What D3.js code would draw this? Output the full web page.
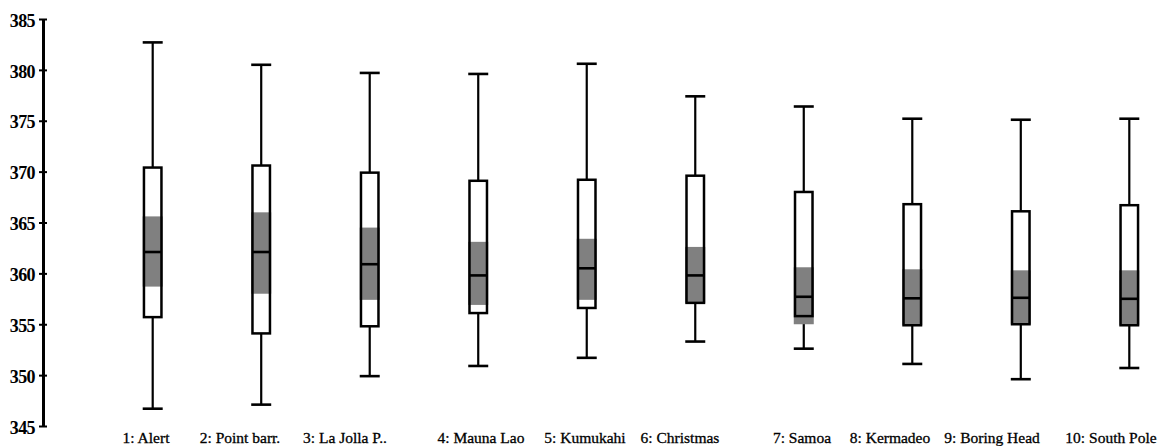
<!DOCTYPE html>
<html>
<head>
<meta charset="utf-8">
<script src="https://cdn.jsdelivr.net/npm/d3@7/dist/d3.min.js"></script>
<style>
  html, body { margin: 0; padding: 0; background: #fff; }
  svg { display: block; }
</style>
</head>
<body>
<svg id="chart" width="1162" height="446"></svg>
<script>
// Monitoring stations and CO2 concentration summaries (ppm)
const stations = ["1: Alert", "2: Point barr.", "3: La Jolla P..", "4: Mauna Lao", "5: Kumukahi",
                  "6: Christmas", "7: Samoa", "8: Kermadeo", "9: Boring Head", "10: South Pole"];
const whiskerHigh = [382.7, 380.5, 379.7, 379.6, 380.6, 377.4, 376.4, 375.2, 375.1, 375.2];
const upperQuartile = [370.4, 370.6, 369.9, 369.1, 369.2, 369.6, 368.0, 366.8, 366.1, 366.7];
const bandHigh = [365.6, 366.0, 364.5, 363.1, 363.4, 362.6, 360.6, 360.4, 360.3, 360.3];
const median = [362.1, 362.1, 360.9, 359.8, 360.5, 359.8, 357.7, 357.55, 357.6, 357.5];
const bandLow = [358.7, 358.0, 357.4, 356.9, 357.4, 357.1, 355.0, 354.9, 355.0, 354.9];
const lowerQuartile = [355.7, 354.1, 354.8, 356.1, 356.6, 357.1, 355.8, 354.9, 355.0, 354.9];
const whiskerLow = [346.7, 347.1, 349.9, 350.9, 351.7, 353.3, 352.6, 351.1, 349.6, 350.7];
const yTicks = [345, 350, 355, 360, 365, 370, 375, 380, 385];

const rows = stations.map((name, i) => ({
  name, hi: whiskerHigh[i], q3: upperQuartile[i], bHi: bandHigh[i], med: median[i],
  bLo: bandLow[i], q1: lowerQuartile[i], lo: whiskerLow[i]
}));

// layout
const axisX = 43;
const boxW = 20;
const labelCenters = [146, 240, 345, 481, 585, 680, 802, 890, 992, 1111];

const svg = d3.select("#chart");

const y = d3.scaleLinear().domain([345, 385]).range([426, 19]);
const x = d3.scalePoint().domain(stations).range([152.7, 1129.3]).padding(0);

// y axis
const yAxis = d3.axisLeft(y).tickValues(yTicks).tickFormat(d3.format("d"))
  .tickSizeInner(4).tickSizeOuter(0).tickPadding(4);
const gy = svg.append("g").attr("transform", `translate(${axisX},0)`).call(yAxis);
gy.select(".domain").attr("stroke", "#000").attr("stroke-width", 3);
gy.selectAll(".tick line").attr("x1", -4).attr("x2", 4)
  .attr("stroke", "#000").attr("stroke-width", 2);
gy.selectAll(".tick text")
  .attr("font-family", "'Liberation Serif', 'Times New Roman', serif")
  .attr("font-size", 18).attr("font-weight", "bold").attr("fill", "#000")
  .attr("letter-spacing", -0.6).attr("dy", "0.4em");

// boxes
const g = svg.append("g");
const box = g.selectAll("g.box").data(rows).join("g").attr("class", "box")
  .attr("transform", d => `translate(${x(d.name)},0)`);

// whiskers
box.append("line").attr("x1", 0).attr("x2", 0)
  .attr("y1", d => y(d.hi)).attr("y2", d => y(d.q3))
  .attr("stroke", "#000").attr("stroke-width", 2.2);
box.append("line").attr("x1", 0).attr("x2", 0)
  .attr("y1", d => y(d.q1)).attr("y2", d => y(d.lo))
  .attr("stroke", "#000").attr("stroke-width", 2.2);
// caps
box.append("line").attr("x1", -boxW / 2).attr("x2", boxW / 2)
  .attr("y1", d => y(d.hi)).attr("y2", d => y(d.hi))
  .attr("stroke", "#000").attr("stroke-width", 2.6);
box.append("line").attr("x1", -boxW / 2).attr("x2", boxW / 2)
  .attr("y1", d => y(d.lo)).attr("y2", d => y(d.lo))
  .attr("stroke", "#000").attr("stroke-width", 2.6);

// box body
box.append("rect").attr("x", -boxW / 2 + 1.25).attr("width", boxW - 2.5)
  .attr("y", d => y(d.q3)).attr("height", d => y(d.q1) - y(d.q3))
  .attr("fill", "#fff");
// shaded band around the median
box.append("rect").attr("x", -boxW / 2).attr("width", boxW)
  .attr("y", d => y(d.bHi)).attr("height", d => y(d.bLo) - y(d.bHi))
  .attr("fill", "#808080");
// box outline
box.append("rect").attr("x", -boxW / 2 + 1.25).attr("width", boxW - 2.5)
  .attr("y", d => y(d.q3)).attr("height", d => y(d.q1) - y(d.q3))
  .attr("fill", "none").attr("stroke", "#000").attr("stroke-width", 2.5);
// median
box.append("line").attr("x1", -boxW / 2 + 1.25).attr("x2", boxW / 2 - 1.25)
  .attr("y1", d => y(d.med)).attr("y2", d => y(d.med))
  .attr("stroke", "#000").attr("stroke-width", 2.6);

// station labels
svg.append("g").selectAll("text").data(stations).join("text")
  .attr("x", (d, i) => labelCenters[i]).attr("y", 443)
  .attr("text-anchor", "middle")
  .attr("font-family", "'Liberation Serif', 'Times New Roman', serif")
  .attr("font-size", 15.5).attr("fill", "#000")
  .attr("stroke", "#000").attr("stroke-width", 0.3)
  .text(d => d);
</script>
</body>
</html>
